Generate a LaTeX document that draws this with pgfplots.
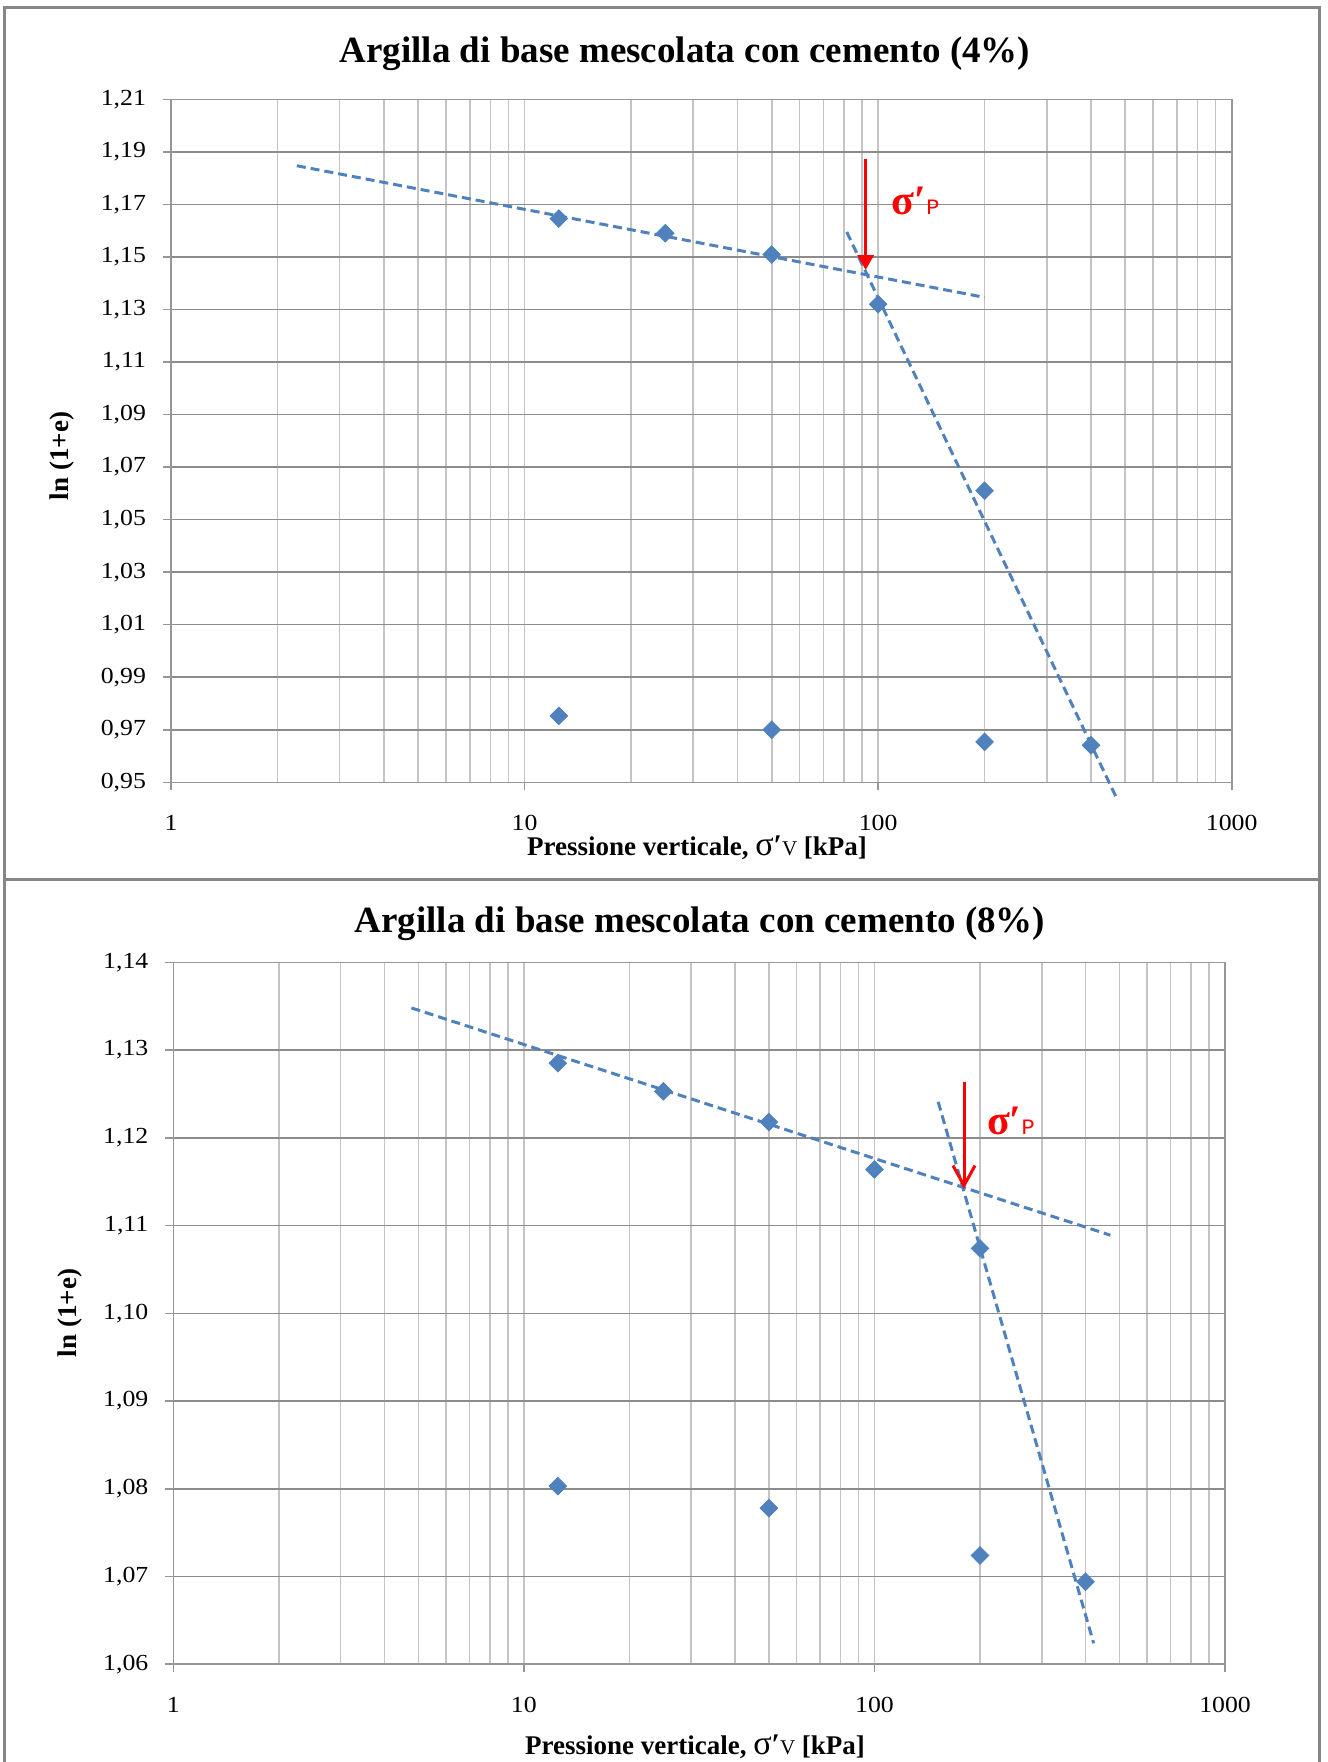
\documentclass[border=0pt]{standalone}
\usepackage{pgfplots}
\pgfplotsset{compat=1.18}
\usetikzlibrary{arrows.meta}
\usepackage{fontspec}
\setmainfont{Liberation Serif}
\newfontfamily\tickfont{Liberation Serif}[FakeStretch=1.12]
\newfontfamily\pfont{Liberation Mono}

\definecolor{serie}{RGB}{79,129,189}
\definecolor{hgrid}{RGB}{140,140,140}
\definecolor{vgrid}{RGB}{196,196,196}
\definecolor{asse}{RGB}{150,150,150}
\definecolor{cornice}{RGB}{134,134,134}

\newcommand{\sigmap}{{\fontsize{21}{21}\selectfont\bfseries σ′}{\pfont\mdseries\fontsize{11}{11}\selectfont P}}
\newcommand{\sigmav}{{\mdseries\fontsize{17}{14}\selectfont σ}{\fontsize{15}{14}\selectfont ′}{\mdseries\fontsize{10.5}{10}\selectfont V}}

\begin{document}
\begin{tikzpicture}
\useasboundingbox (0,0) rectangle (664pt,-881pt);

% chart frames
\draw[cornice, line width=1.5pt] (2pt,-3.5pt) rectangle (659.5pt,-439.5pt);
\draw[cornice, line width=1.5pt] (2pt,-885pt) -- (2pt,-439.5pt) -- (659.5pt,-439.5pt) -- (659.5pt,-885pt);

% ---- cemento 4% ----
\begin{axis}[
  scale only axis,
  at={(85.5pt,-49.65pt)}, anchor=north west,
  width=530.35pt, height=341.5pt,
  xmode=log,
  xmin=1, xmax=1000,
  xtick={1,10,100,1000},
  xticklabels={1,10,100,1000},
  minor xtick={2,3,4,5,6,7,8,9,20,30,40,50,60,70,80,90,200,300,400,500,600,700,800,900},
  ymin=0.95, ymax=1.21,
  ytick={0.95,0.97,0.99,1.01,1.03,1.05,1.07,1.09,1.11,1.13,1.15,1.17,1.19,1.21},
  xmajorgrids, xminorgrids, ymajorgrids,
  x grid style={color=vgrid, line width=0.8pt},
  y grid style={color=hgrid, line width=0.8pt},
  axis line style={color=asse, line width=0.8pt},
  tick align=outside,
  major tick length=4pt, minor tick length=0pt,
  tick style={color=asse, line width=0.8pt},
  xtick pos=bottom, ytick pos=left,
  ticklabel style={font=\tickfont\fontsize{11.5}{12}\selectfont},
  yticklabel style={xshift=-5pt, /pgf/number format/.cd, fixed, fixed zerofill, precision=2, use comma, assume math mode=true},
  xticklabel style={yshift=-9pt},
  clip=false,
]
\addplot[only marks, mark=square*, mark size=3.1pt, mark options={rotate=45, fill=serie, draw=serie}] coordinates {
  (12.5,1.1646) (25,1.1590) (50,1.1509) (100,1.1320) (200,1.0610) (400,0.9641)
  (200,0.9654) (50,0.9700) (12.5,0.9753)
};
\addplot[serie, line width=1.5pt, dash pattern=on 4.5pt off 2.5pt, no marks] coordinates {(2.27,1.1847) (200,1.1346)};
\addplot[serie, line width=1.5pt, dash pattern=on 4.5pt off 2.5pt, no marks] coordinates {(81.5,1.1595) (471,0.9444)};
\draw[red, line width=1.5pt, -{Triangle[width=8pt,length=7.5pt]}]
  (axis cs:92.2,1.1872) -- (axis cs:92.2,1.1450);
\node[red, anchor=base west, inner sep=0pt] at (axis cs:109,1.1663) {\sigmap};
\end{axis}

% ---- cemento 8% ----
\begin{axis}[
  scale only axis,
  at={(86.65pt,-481.15pt)}, anchor=north west,
  width=525.85pt, height=351pt,
  xmode=log,
  xmin=1, xmax=1000,
  xtick={1,10,100,1000},
  xticklabels={1,10,100,1000},
  minor xtick={2,3,4,5,6,7,8,9,20,30,40,50,60,70,80,90,200,300,400,500,600,700,800,900},
  ymin=1.06, ymax=1.14,
  ytick={1.06,1.07,1.08,1.09,1.10,1.11,1.12,1.13,1.14},
  xmajorgrids, xminorgrids, ymajorgrids,
  x grid style={color=vgrid, line width=0.8pt},
  y grid style={color=hgrid, line width=0.8pt},
  axis line style={color=asse, line width=0.8pt},
  tick align=outside,
  major tick length=4pt, minor tick length=0pt,
  tick style={color=asse, line width=0.8pt},
  xtick pos=bottom, ytick pos=left,
  ticklabel style={font=\tickfont\fontsize{11.5}{12}\selectfont},
  yticklabel style={xshift=-5pt, /pgf/number format/.cd, fixed, fixed zerofill, precision=2, use comma, assume math mode=true},
  xticklabel style={yshift=-9pt},
  clip=false,
]
\addplot[only marks, mark=square*, mark size=3.1pt, mark options={rotate=45, fill=serie, draw=serie}] coordinates {
  (12.5,1.1285) (25,1.1253) (50,1.1218) (100,1.1164) (200,1.1074) (400,1.0694)
  (200,1.0724) (50,1.0778) (12.5,1.0803)
};
\addplot[serie, line width=1.5pt, dash pattern=on 4.5pt off 2.5pt, no marks] coordinates {(4.78,1.1348) (471,1.1089)};
\addplot[serie, line width=1.5pt, dash pattern=on 4.5pt off 2.5pt, no marks] coordinates {(152,1.1241) (422,1.0624)};
\draw[red, line width=1.5pt, -{Straight Barb[width=11pt,length=10pt,line width=1.5pt]}]
  (axis cs:180.1,1.1264) -- (axis cs:180.1,1.1142);
\node[red, anchor=base west, inner sep=0pt] at (axis cs:209,1.1204) {\sigmap};
\end{axis}

% titles and axis labels
\node[font=\fontsize{18.5}{20}\selectfont\bfseries] at (342.5pt,-27pt)
  {Argilla di base mescolata con cemento (4\%)};
\node[font=\fontsize{18.5}{20}\selectfont\bfseries] at (350pt,-461.75pt)
  {Argilla di base mescolata con cemento (8\%)};
\node[font=\fontsize{13.5}{14}\selectfont\bfseries, rotate=90] at (31pt,-228pt) {ln (1+e)};
\node[font=\fontsize{13.5}{14}\selectfont\bfseries, rotate=90] at (35pt,-656.5pt) {ln (1+e)};
\node[font=\fontsize{13.5}{14}\selectfont\bfseries] at (348.5pt,-424pt)
  {Pressione verticale, \sigmav\ [kPa]};
\node[font=\fontsize{13.5}{14}\selectfont\bfseries] at (347.5pt,-873.5pt)
  {Pressione verticale, \sigmav\ [kPa]};
\end{tikzpicture}
\end{document}
